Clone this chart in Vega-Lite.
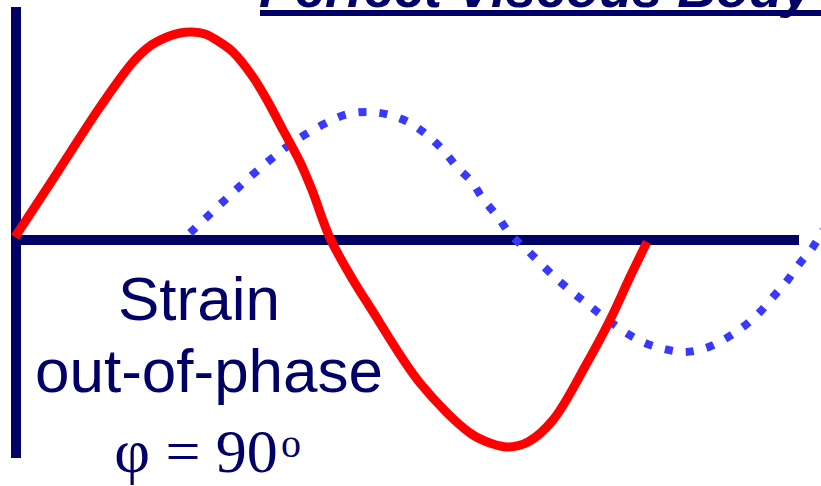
{
  "$schema": "https://vega.github.io/schema/vega-lite/v6.json",
  "width": 821,
  "height": 486,
  "autosize": {"type": "none"},
  "padding": 0,
  "background": "white",
  "config": {"view": {"stroke": null}},
  "datasets": {
    "stress": [
      {"t": 15, "v": 3}, {"t": 57, "v": 67}, {"t": 100, "v": 133},
      {"t": 133, "v": 178}, {"t": 150, "v": 194}, {"t": 167, "v": 203}, {"t": 180, "v": 207},
      {"t": 192, "v": 208}, {"t": 205, "v": 206}, {"t": 218, "v": 199}, {"t": 233, "v": 188},
      {"t": 253, "v": 163}, {"t": 267, "v": 140}, {"t": 283, "v": 110}, {"t": 300, "v": 78},
      {"t": 312, "v": 50}, {"t": 330, "v": 2}, {"t": 353, "v": -40}, {"t": 370, "v": -67},
      {"t": 420, "v": -143}, {"t": 470, "v": -193}, {"t": 490, "v": -203}, {"t": 508, "v": -207},
      {"t": 528, "v": -202}, {"t": 553, "v": -180}, {"t": 587, "v": -123}, {"t": 610, "v": -80},
      {"t": 630, "v": -37}, {"t": 647, "v": -2}
    ],
    "strain": [
      {"t": 190, "v": 7}, {"t": 227, "v": 42}, {"t": 258, "v": 70}, {"t": 292, "v": 97},
      {"t": 328, "v": 118}, {"t": 348, "v": 126}, {"t": 369, "v": 128}, {"t": 390, "v": 125},
      {"t": 410, "v": 117}, {"t": 427, "v": 105}, {"t": 443, "v": 90}, {"t": 457, "v": 73},
      {"t": 472, "v": 58}, {"t": 483, "v": 41}, {"t": 498, "v": 23}, {"t": 510, "v": 6},
      {"t": 527, "v": -10}, {"t": 558, "v": -40}, {"t": 591, "v": -67}, {"t": 625, "v": -92},
      {"t": 645, "v": -103}, {"t": 664, "v": -109}, {"t": 685, "v": -112}, {"t": 706, "v": -108},
      {"t": 725, "v": -99}, {"t": 743, "v": -87}, {"t": 759, "v": -73}, {"t": 773, "v": -57},
      {"t": 787, "v": -41}, {"t": 800, "v": -23}, {"t": 813, "v": -7}, {"t": 823, "v": 10}
    ],
    "frame": [
      {"part": "vertical", "t": 16, "t2": 16, "v": 233, "v2": -218},
      {"part": "horizontal", "t": 16, "t2": 799, "v": 0, "v2": 0},
      {"part": "underline", "t": 260, "t2": 821, "v": 227, "v2": 227}
    ],
    "labels": [
      {"kind": "title", "text": "Perfect Viscous Body", "t": 259, "v": 233},
      {"kind": "sans", "text": "Strain", "t": 199, "v": -80},
      {"kind": "sans", "text": "out-of-phase", "t": 209, "v": -152},
      {"kind": "serif", "text": "φ = 90", "t": 196, "v": -232},
      {"kind": "sup", "text": "o", "t": 291, "v": -217}
    ]
  },
  "encoding": {
    "x": {"field": "t", "type": "quantitative", "scale": {"domain": [0, 821], "nice": false, "zero": false}, "axis": null},
    "y": {"field": "v", "type": "quantitative", "scale": {"domain": [-246, 240], "nice": false, "zero": false}, "axis": null}
  },
  "layer": [
    {
      "data": {"name": "frame"},
      "transform": [{"filter": "datum.part === 'vertical'"}],
      "mark": {"type": "rule", "color": "#000066", "strokeWidth": 10, "strokeCap": "butt"},
      "encoding": {"y2": {"field": "v2"}}
    },
    {
      "data": {"name": "frame"},
      "transform": [{"filter": "datum.part === 'horizontal'"}],
      "mark": {"type": "rule", "color": "#000066", "strokeWidth": 10, "strokeCap": "butt"},
      "encoding": {"x2": {"field": "t2"}}
    },
    {
      "data": {"name": "frame"},
      "transform": [{"filter": "datum.part === 'underline'"}],
      "mark": {"type": "rule", "color": "#000066", "strokeWidth": 6, "strokeCap": "butt"},
      "encoding": {"x2": {"field": "t2"}}
    },
    {
      "data": {"name": "strain"},
      "mark": {"type": "line", "color": "#3838FF", "strokeWidth": 8, "strokeDash": [8, 13], "strokeCap": "butt", "interpolate": "catmull-rom", "clip": true},
      "encoding": {}
    },
    {
      "data": {"name": "stress"},
      "mark": {"type": "line", "color": "#FF0000", "strokeWidth": 9, "strokeCap": "butt", "interpolate": "catmull-rom"},
      "encoding": {}
    },
    {
      "data": {"name": "labels"},
      "transform": [{"filter": "datum.kind === 'title'"}],
      "mark": {"type": "text", "align": "left", "baseline": "alphabetic", "font": "Liberation Sans", "fontSize": 54, "fontWeight": "bold", "fontStyle": "italic", "color": "#000066"},
      "encoding": {"text": {"field": "text"}}
    },
    {
      "data": {"name": "labels"},
      "transform": [{"filter": "datum.kind === 'sans'"}],
      "mark": {"type": "text", "align": "center", "baseline": "alphabetic", "font": "Liberation Sans", "fontSize": 62, "color": "#000066"},
      "encoding": {"text": {"field": "text"}}
    },
    {
      "data": {"name": "labels"},
      "transform": [{"filter": "datum.kind === 'serif'"}],
      "mark": {"type": "text", "align": "center", "baseline": "alphabetic", "font": "Liberation Serif", "fontSize": 62, "color": "#000066"},
      "encoding": {"text": {"field": "text"}}
    },
    {
      "data": {"name": "labels"},
      "transform": [{"filter": "datum.kind === 'sup'"}],
      "mark": {"type": "text", "align": "center", "baseline": "alphabetic", "font": "Liberation Serif", "fontSize": 40, "color": "#000066"},
      "encoding": {"text": {"field": "text"}}
    }
  ]
}
